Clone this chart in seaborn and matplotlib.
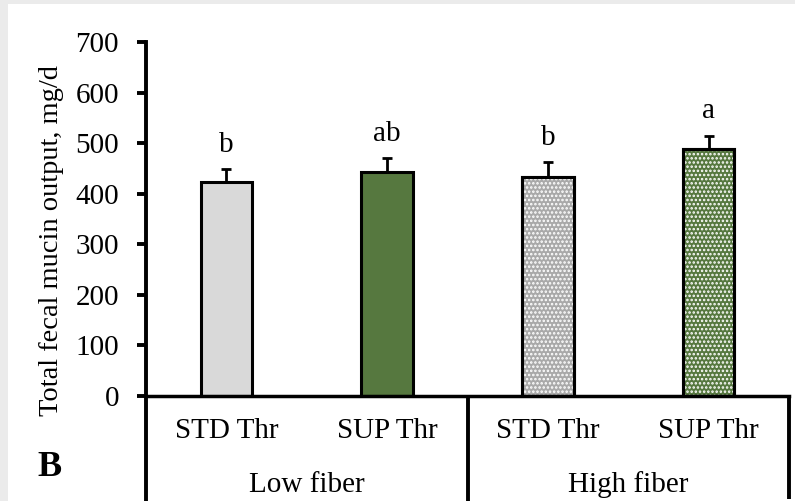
import matplotlib
matplotlib.use("Agg")
import matplotlib.pyplot as plt
import matplotlib.transforms as mtransforms
from matplotlib.patches import Rectangle
from matplotlib.lines import Line2D
import pandas as pd
import seaborn as sns

# values (mg/d)
fiber = ["Low fiber", "Low fiber", "High fiber", "High fiber"]
thr = ["STD Thr", "SUP Thr", "STD Thr", "SUP Thr"]
mucin = [423, 442, 433, 488]
sem = [26, 29, 29, 27]
letters = ["b", "ab", "b", "a"]
groups = ["Low fiber", "High fiber"]

bar_colors = ["#d9d9d9", "#548235", "#a9a9a9", "#548235"]
hatched = [False, False, True, True]

df = pd.DataFrame({"fiber": fiber, "thr": thr, "mucin": mucin})
df["key"] = df["fiber"] + " " + df["thr"]

sns.set_style("white")
plt.rcParams["font.family"] = ["Liberation Serif", "DejaVu Serif"]
plt.rcParams["hatch.linewidth"] = 1.2
for k in ["text.color", "axes.edgecolor", "xtick.color", "ytick.color",
          "axes.labelcolor"]:
    plt.rcParams[k] = "black"

fig = plt.figure(figsize=(7.95, 5.01), dpi=100)
fig.patch.set_facecolor("white")
# light grey frame on the left and top
fig.patches.append(Rectangle((0, 0), 8 / 795, 1, transform=fig.transFigure,
                             facecolor="#ebebeb", edgecolor="none", zorder=-10))
fig.patches.append(Rectangle((0, 1 - 4 / 501), 1, 4 / 501, transform=fig.transFigure,
                             facecolor="#ebebeb", edgecolor="none", zorder=-10))

ax = fig.add_axes([146 / 795, 105 / 501, 643 / 795, 354 / 501])
sns.barplot(data=df, x="key", y="mucin", hue="key", palette=bar_colors,
            width=0.32, edgecolor="black", linewidth=2.2, legend=False, ax=ax)

# dotted pattern on the high fiber bars
for p, h in zip(ax.patches, hatched):
    if h:
        ax.add_patch(Rectangle(p.get_xy(), p.get_width(), p.get_height(),
                               facecolor="none", edgecolor="white", hatch="....",
                               linewidth=0, zorder=p.get_zorder() + 0.1))
        ax.add_patch(Rectangle(p.get_xy(), p.get_width(), p.get_height(),
                               facecolor="none", edgecolor="black",
                               linewidth=2.2, zorder=p.get_zorder() + 0.2))

xpos = list(range(len(mucin)))
ax.errorbar(xpos, mucin, yerr=[[0] * len(sem), sem], fmt="none", ecolor="black",
            elinewidth=2, capsize=3.6, capthick=2, zorder=1)

for x, m, s, t in zip(xpos, mucin, sem, letters):
    ax.text(x, m + s + 22, t, ha="center", va="bottom", fontsize=21)

ax.set_xlim(-0.5, 3.5)
ax.set_ylim(0, 700)
ax.set_yticks(range(0, 701, 100))
ax.tick_params(axis="y", labelsize=21, length=6.5, width=2.8, direction="out",
               pad=13, left=True)
ax.set_xticks(xpos)
ax.set_xticklabels(thr)
ax.tick_params(axis="x", labelsize=21, length=0, pad=16)
ax.set_xlabel("")
ax.set_ylabel("")

for side in ["top", "right"]:
    ax.spines[side].set_visible(False)
ax.spines["left"].set_linewidth(2.8)
ax.spines["bottom"].set_linewidth(2.5)

# group separators below the axis
trans = mtransforms.blended_transform_factory(ax.transData, ax.transAxes)
for xv, y1 in [(-0.5, -0.32), (1.5, -0.32), (3.5, -0.29)]:
    ax.add_line(Line2D([xv, xv], [0, y1], transform=trans, color="black",
                       linewidth=2.8, clip_on=False, solid_capstyle="butt"))

for i, g in enumerate(groups):
    ax.text(i * 2 + 0.5, -0.25, g, transform=trans, ha="center", va="center",
            fontsize=21)

fig.text(52 / 795, 1 - 240 / 501, "Total fecal mucin output, mg/d", rotation=90,
         ha="center", va="center", fontsize=20.5)
fig.text(50 / 795, 1 - 467 / 501, "B", ha="center", va="center", fontsize=26,
         fontweight="bold")

fig.savefig("out.png", dpi=100)
